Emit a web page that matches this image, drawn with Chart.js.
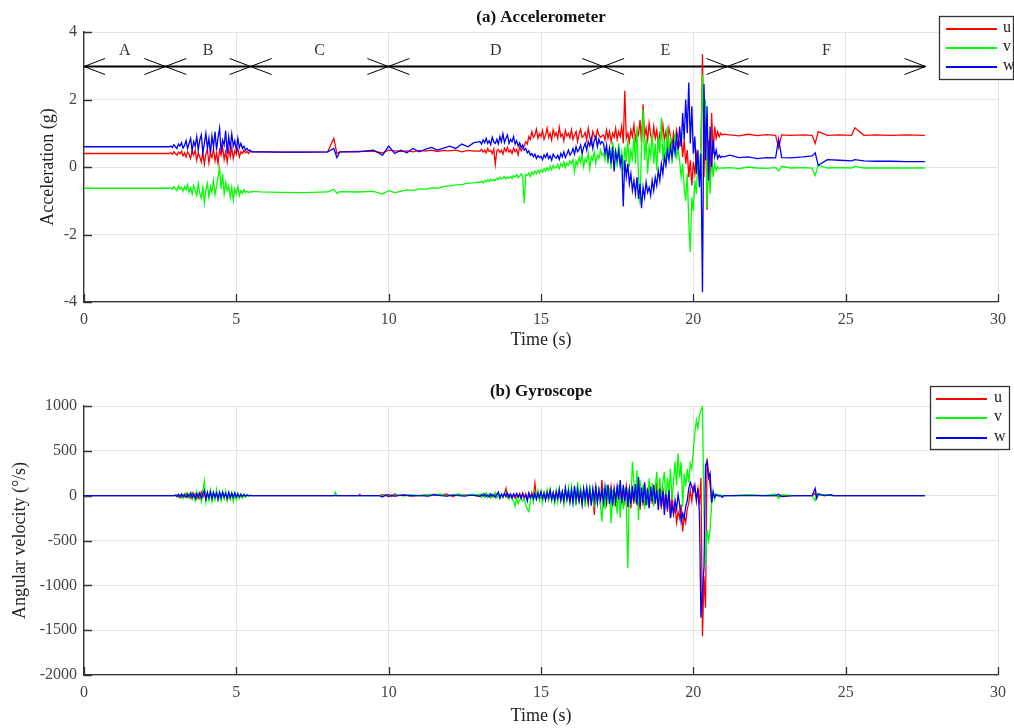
<!DOCTYPE html>
<html>
<head>
<meta charset="utf-8">
<script src="https://cdn.jsdelivr.net/npm/chart.js@4.4.1/dist/chart.umd.min.js"></script>
<style>
  body { margin: 0; background: #fff; }
  .panel { position: absolute; left: 0; width: 1014px; height: 364px; }
</style>
</head>
<body>
<div class="panel" style="top:0"><canvas id="accChart"></canvas></div>
<div class="panel" style="top:364px"><canvas id="gyroChart"></canvas></div>
<script>
// ---- accelerometer (g) ----
const accTime = [
  0, 2.8,
  2.85, 2.9, 2.95, 3.0, 3.05, 3.1, 3.15, 3.2, 3.25, 3.3,
  3.35, 3.4, 3.45, 3.5, 3.55, 3.6, 3.65, 3.7, 3.75, 3.8,
  3.85, 3.9, 3.95, 4.0, 4.05, 4.1, 4.15, 4.2, 4.25, 4.3,
  4.35, 4.4, 4.45, 4.5, 4.55, 4.6, 4.65, 4.7, 4.75, 4.8,
  4.85, 4.9, 4.95, 5.0, 5.05, 5.1, 5.15, 5.2, 5.25, 5.3,
  5.35, 5.4, 5.45, 5.5, 5.55, 5.6,
  5.8, 6.5, 7.2, 8.0, 8.2, 8.3, 8.4, 9.0, 9.5, 9.8, 10.0, 10.2,
  10.4, 10.6, 10.8, 11.0, 11.2, 11.4, 11.6, 11.8, 12.0, 12.2, 12.4, 12.6, 12.8,
  13.0, 13.05, 13.1, 13.15, 13.2, 13.25, 13.3, 13.35, 13.4, 13.45,
  13.5, 13.55, 13.6, 13.65, 13.7, 13.75, 13.8, 13.85, 13.9, 13.95,
  14.0, 14.05, 14.1, 14.15, 14.2, 14.25, 14.3, 14.35, 14.4, 14.45,
  14.5, 14.55, 14.6, 14.65, 14.7, 14.75, 14.8, 14.85, 14.9, 14.95,
  15.0, 15.05, 15.1, 15.15, 15.2, 15.25, 15.3, 15.35, 15.4, 15.45,
  15.5, 15.55, 15.6, 15.65, 15.7, 15.75, 15.8, 15.85, 15.9, 15.95,
  16.0, 16.05, 16.1, 16.15, 16.2, 16.25, 16.3, 16.35, 16.4, 16.45,
  16.5, 16.55, 16.6, 16.65, 16.7, 16.75, 16.8, 16.85, 16.9, 16.95,
  17.0,
  17.05, 17.1, 17.15, 17.2, 17.25, 17.3, 17.35, 17.4, 17.45, 17.5,
  17.55, 17.6, 17.65, 17.7, 17.75, 17.8, 17.85, 17.9, 17.95, 18.0,
  18.05, 18.1, 18.15, 18.2, 18.25, 18.3, 18.35, 18.4, 18.45, 18.5,
  18.55, 18.6, 18.65, 18.7, 18.75, 18.8, 18.85, 18.9, 18.95, 19.0,
  19.05, 19.1, 19.15, 19.2, 19.25, 19.3, 19.35, 19.4, 19.45, 19.5,
  19.55, 19.6, 19.65, 19.7, 19.75, 19.8, 19.85, 19.9, 19.95, 20.0,
  20.05, 20.1, 20.15, 20.2, 20.25, 20.3, 20.35, 20.4, 20.45, 20.5,
  20.55, 20.6, 20.65, 20.7, 20.75, 20.8, 20.85, 20.9, 20.95, 21.0,
  21.2, 21.5, 21.8, 22.1, 22.4, 22.7, 22.8, 22.9, 23.2, 23.6, 23.9, 24.0, 24.1, 24.4, 24.8, 25.2, 25.3, 25.6, 26.0, 26.5, 27.0, 27.6
];
const accU = [
  0.40, 0.40,
  0.42, 0.38, 0.45, 0.40, 0.35, 0.44, 0.39, 0.47, 0.33, 0.42,
  0.30, 0.45, 0.38, 0.25, 0.48, 0.35, 0.50, 0.20, 0.42, 0.30,
  0.15, 0.45, 0.08, 0.38, 0.52, 0.12, 0.40, 0.28, 0.55, 0.18,
  0.42, 0.10, 0.50, 0.35, 0.60, 0.22, 0.45, 0.15, 0.52, 0.30,
  0.58, 0.25, 0.48, 0.38, 0.55, 0.30, 0.45, 0.40, 0.50, 0.42,
  0.46, 0.40, 0.47, 0.44, 0.45, 0.45,
  0.45, 0.44, 0.44, 0.45, 0.85, 0.40, 0.45, 0.46, 0.47, 0.42, 0.50, 0.48,
  0.46, 0.48, 0.45, 0.49, 0.47, 0.50, 0.46, 0.49, 0.48, 0.50, 0.45, 0.49, 0.47,
  0.47, 0.52, 0.44, 0.50, 0.42, 0.55, 0.46, 0.49, 0.40, 0.53,
  0.08, 0.48, 0.52, 0.43, 0.50, 0.38, 0.55, 0.46, 0.58, 0.44,
  0.50, 0.40, 0.56, 0.45, 0.52, 0.36, 0.60, 0.48, 0.55, 0.62,
  0.75, 0.68, 0.90, 0.82, 1.05, 0.88, 0.95, 1.12, 0.85, 0.98,
  0.90, 1.08, 0.82, 0.95, 1.15, 0.88, 1.00, 0.80, 1.10, 0.92,
  1.02, 0.85, 1.18, 0.90, 0.98, 0.78, 1.08, 0.92, 1.00, 0.86,
  1.10, 0.82, 0.95, 1.05, 0.75, 0.98, 1.12, 0.88, 0.92, 1.02,
  0.80, 1.15, 0.90, 0.70, 1.05, 0.92, 0.85, 1.10, 0.95, 0.88,
  0.92,
  0.95, 0.80, 1.10, 0.85, 1.05, 0.75, 1.00, 0.88, 1.15, 0.82,
  1.05, 0.90, 1.20, 0.70, 2.26, 0.85, 1.00, 0.75, 1.10, 0.90,
  1.25, 0.80, 1.05, 0.95, 1.40, 0.70, 1.86, 0.90, 1.15, 0.80,
  1.30, 0.95, 0.75, 1.20, 0.85, 1.10, 0.65, 1.00, 0.90, 1.25,
  0.80, 1.05, 0.70, 1.15, 0.90, 0.60, 1.00, 0.75, 1.10, 0.85,
  0.65, 0.95, 0.30, 0.80, 0.10, 0.50, -0.30, 0.20, -0.55, 0.15,
  -0.20, 0.40, 0.10, -0.40, 0.60, 3.35, -0.30, 1.60, -1.27, 0.80,
  -0.60, 1.60, 0.40, 1.20, 0.85, 1.05, 0.90, 1.00, 0.95, 0.97,
  0.95, 0.92, 0.97, 0.93, 0.96, 0.94, 0.57, 0.95, 0.94, 0.95, 0.94, 0.70, 1.05, 0.94, 0.95, 0.94, 1.16, 0.94, 0.95, 0.94, 0.95, 0.94
];
const accV = [
  -0.63, -0.63,
  -0.62, -0.66, -0.58, -0.64, -0.70, -0.56, -0.66, -0.60, -0.72, -0.58,
  -0.68, -0.52, -0.75, -0.62, -0.80, -0.55, -0.70, -0.85, -0.50, -0.78,
  -0.92, -0.60, -1.07, -0.70, -0.48, -0.88, -0.58, -0.75, -0.40, -0.82,
  -0.55, -0.30, -0.02, -0.65, -0.20, -0.80, -0.45, -0.70, -0.55, -0.90,
  -0.60, -1.00, -0.65, -0.80, -0.58, -0.85, -0.70, -0.78, -0.68, -0.75,
  -0.72, -0.76, -0.73, -0.74, -0.73, -0.73,
  -0.74, -0.75, -0.76, -0.74, -0.66, -0.78, -0.73, -0.74, -0.72, -0.80, -0.70, -0.76,
  -0.72, -0.68, -0.70, -0.65, -0.66, -0.62, -0.63, -0.58, -0.56, -0.53, -0.52, -0.48, -0.47,
  -0.45, -0.42, -0.47, -0.40, -0.44, -0.38, -0.43, -0.36, -0.41, -0.38,
  -0.40, -0.34, -0.38, -0.30, -0.36, -0.32, -0.28, -0.35, -0.30, -0.33,
  -0.28, -0.34, -0.25, -0.30, -0.22, -0.32, -0.26, -0.20, -0.30, -1.07,
  -0.22, -0.25, -0.18, -0.28, -0.15, -0.22, -0.12, -0.20, -0.10, -0.18,
  -0.08, -0.15, -0.05, -0.12, -0.02, -0.10, 0.02, -0.08, 0.05, -0.04,
  0.00, 0.08, -0.05, 0.10, 0.02, 0.15, -0.02, 0.12, 0.05, 0.18,
  0.10, 0.22, -0.15, 0.18, 0.05, 0.28, 0.12, 0.35, 0.00, 0.25,
  0.15, 0.40, -0.05, 0.30, 0.20, 0.45, 0.10, 0.35, 0.25, 0.50,
  0.35,
  0.40, 0.20, 0.55, 0.10, 0.60, -0.05, 0.75, 0.30, 0.50, 0.00,
  0.70, 0.20, 0.45, -0.10, 0.60, 0.15, 0.80, 0.00, 0.50, 0.25,
  0.90, 0.10, 1.20, -0.30, -1.12, 0.60, 1.71, 0.20, 0.85, -0.20,
  0.60, 0.30, 1.00, 0.10, 0.70, -0.10, 0.90, 0.40, 1.46, 0.20,
  0.80, 0.00, 1.20, 0.40, 0.90, 0.10, 0.60, 1.00, 0.30, 0.50,
  0.20, -0.30, 0.10, -0.60, -1.00, -0.20, -1.60, -2.52, -0.90, -1.30,
  -0.40, -0.80, 0.20, -0.10, 0.60, 2.76, 1.20, 2.00, -1.22, 0.40,
  -0.80, 0.30, -0.30, 0.10, -0.10, 0.00, -0.05, -0.02, -0.04, -0.03,
  -0.02, -0.05, 0.00, -0.03, -0.04, -0.02, -0.12, 0.02, -0.03, -0.02, -0.03, -0.25, 0.05, -0.03, -0.02, -0.03, 0.02, -0.03, -0.03, -0.03, -0.03, -0.03
];
const accW = [
  0.60, 0.60,
  0.62, 0.58, 0.66, 0.60, 0.55, 0.68, 0.62, 0.72, 0.56, 0.64,
  0.78, 0.55, 0.70, 0.85, 0.48, 0.75, 0.62, 0.90, 0.50, 0.80,
  0.95, 0.42, 0.70, 1.00, 0.55, 0.85, 0.38, 0.92, 0.60, 1.05,
  0.50, 0.88, 1.15, 0.45, 0.80, 0.65, 1.08, 0.40, 0.90, 0.55,
  0.98, 0.62, 0.78, 0.50, 0.85, 0.58, 0.70, 0.55, 0.62, 0.50,
  0.55, 0.48, 0.50, 0.46, 0.45, 0.45,
  0.45, 0.44, 0.44, 0.45, 0.55, 0.28, 0.45, 0.45, 0.50, 0.35, 0.62, 0.40,
  0.50, 0.42, 0.55, 0.45, 0.52, 0.58, 0.50, 0.56, 0.62, 0.55, 0.68, 0.60, 0.72,
  0.75, 0.68, 0.80, 0.72, 0.85, 0.70, 0.78, 0.66, 0.88, 0.74,
  0.70, 0.82, 0.68, 0.90, 0.75, 0.98, 0.72, 0.85, 0.95, 0.70,
  0.82, 0.75, 0.90, 0.68, 0.78, 0.62, 0.72, 0.58, 0.65, 0.50,
  0.55, 0.42, 0.48, 0.35, 0.40, 0.30, 0.38, 0.25, 0.34, 0.28,
  0.32, 0.22, 0.36, 0.28, 0.40, 0.25, 0.33, 0.20, 0.38, 0.30,
  0.26, 0.35, 0.22, 0.40, 0.30, 0.45, 0.28, 0.38, 0.50, 0.35,
  0.42, 0.55, 0.38, 0.60, 0.45, 0.52, 0.65, 0.40, 0.58, 0.70,
  0.50, 0.75, 0.62, 0.85, 0.55, 0.78, 0.90, 0.60, 0.82, 0.68,
  0.75,
  0.70, 0.40, 0.65, 0.25, 0.55, 0.10, 0.60, -0.13, 0.45, 0.20,
  0.50, 0.05, 0.35, -1.17, 0.20, -0.30, 0.10, -0.50, -0.20, -0.70,
  -0.40, -0.80, -0.30, -0.95, -0.50, -1.22, -0.60, -0.90, -0.45, -0.75,
  -0.60, -0.85, -0.40, -0.70, -0.30, -0.55, -0.10, -0.40, 0.10, -0.20,
  0.30, 0.05, 0.50, 0.20, 0.60, 0.30, 0.75, 0.40, 0.90, 0.50,
  1.20, 0.60, 1.60, 0.80, 2.00, 1.00, 2.50, 0.70, 1.80, 0.40,
  0.90, -0.20, 0.50, -0.60, 0.40, -3.71, 2.46, 0.20, 1.80, -0.40,
  1.20, 0.00, 0.80, 0.30, 0.50, 0.25, 0.35, 0.28, 0.32, 0.30,
  0.35, 0.28, 0.30, 0.25, 0.28, 0.27, 0.82, 0.28, 0.27, 0.30, 0.33, 0.42, 0.05, 0.22, 0.20, 0.18, 0.22, 0.18, 0.17, 0.17, 0.16, 0.16
];

// ---- gyroscope (deg/s) ----
const gyroTime = [
  0, 2.95,
  3.0, 3.05, 3.1, 3.15, 3.2, 3.25, 3.3, 3.35, 3.4, 3.45,
  3.5, 3.55, 3.6, 3.65, 3.7, 3.75, 3.8, 3.85, 3.9, 3.95,
  4.0, 4.05, 4.1, 4.15, 4.2, 4.25, 4.3, 4.35, 4.4, 4.45,
  4.5, 4.55, 4.6, 4.65, 4.7, 4.75, 4.8, 4.85, 4.9, 4.95,
  5.0, 5.05, 5.1, 5.15, 5.2, 5.25, 5.3, 5.35, 5.4, 5.45,
  5.5,
  5.7, 8.2, 8.25, 8.3, 9.0, 9.05, 9.1, 9.7, 9.8, 9.9, 10.0, 10.1, 10.2, 10.3, 10.5, 10.7, 11.0, 11.3, 11.5, 11.7, 11.9, 12.1, 12.3, 12.5, 12.7, 12.9,
  13.0, 13.05, 13.1, 13.15, 13.2, 13.25, 13.3, 13.35, 13.4, 13.45,
  13.5, 13.55, 13.6, 13.65, 13.7, 13.75, 13.8, 13.85, 13.9, 13.95,
  14.0, 14.05, 14.1, 14.15, 14.2, 14.25, 14.3, 14.35, 14.4, 14.45,
  14.5, 14.55, 14.6, 14.65, 14.7, 14.75, 14.8, 14.85, 14.9, 14.95,
  15.0, 15.05, 15.1, 15.15, 15.2, 15.25, 15.3, 15.35, 15.4, 15.45,
  15.5, 15.55, 15.6, 15.65, 15.7, 15.75, 15.8, 15.85, 15.9, 15.95,
  16.0, 16.05, 16.1, 16.15, 16.2, 16.25, 16.3, 16.35, 16.4, 16.45,
  16.5, 16.55, 16.6, 16.65, 16.7, 16.75, 16.8, 16.85, 16.9, 16.95,
  17.0,
  17.05, 17.1, 17.15, 17.2, 17.25, 17.3, 17.35, 17.4, 17.45, 17.5,
  17.55, 17.6, 17.65, 17.7, 17.75, 17.8, 17.85, 17.9, 17.95, 18.0,
  18.05, 18.1, 18.15, 18.2, 18.25, 18.3, 18.35, 18.4, 18.45, 18.5,
  18.55, 18.6, 18.65, 18.7, 18.75, 18.8, 18.85, 18.9, 18.95, 19.0,
  19.05, 19.1, 19.15, 19.2, 19.25, 19.3, 19.35, 19.4, 19.45, 19.5,
  19.55, 19.6, 19.65, 19.7, 19.75, 19.8, 19.85, 19.9, 19.95, 20.0,
  20.05, 20.1, 20.15, 20.2, 20.25, 20.3, 20.35, 20.4, 20.45, 20.5,
  20.55, 20.6, 20.65, 20.7, 20.75, 20.8, 20.85, 20.9, 20.95, 21.0,
  21.3, 21.8, 22.3, 22.7, 22.8, 22.9, 23.3, 23.9, 24.0, 24.05, 24.1, 24.3, 24.5, 24.6, 25.0, 27.6
];
const gyroU = [
  0, 0,
  0, 10, -15, 8, -20, 12, -10, 25, -18, 15,
  -25, 30, -12, 20, -35, 18, -28, 40, -20, 25,
  -40, 15, -30, 35, -45, 20, -25, 30, -50, 22,
  -30, 40, -20, 28, -45, 15, -35, 25, -40, 18,
  -25, 20, -30, 12, -18, 15, -10, 8, -5, 5,
  0,
  0, 0, 5, 0, 0, 15, 0, 0, 10, -5, 15, -10, 20, 0, 10, -5, 0, 10, 15, 5, 20, -10, 15, 5, 10, -5,
  10, -8, 15, -12, 20, -15, 8, -20, 12, -10,
  25, -18, 15, -25, 10, -12, 20, 81, -15, 10,
  20, -25, 15, -30, 10, -20, 25, -15, 30, -35,
  20, -40, 25, -30, 35, -25, 137, -30, 20, -45,
  30, -40, 35, -20, 45, -50, 25, -35, 40, -30,
  50, -45, 30, -55, 40, -35, 60, -40, 25, -60,
  45, -30, 55, -70, 40, -50, 70, -45, 60, -80,
  50, -90, 75, -60, 45, -215, 80, -50, 60, -100,
  174,
  -60, 40, -90, 70, -50, 100, -80, 50, -120, 80,
  -40, 90, -100, 60, -70, 110, -30, 80, -140, 60,
  -90, 120, -60, 80, -160, 50, -110, 130, -70, 90,
  -130, 60, -90, 110, -50, 140, -100, 70, -150, 90,
  -120, 50, -180, 80, -250, 40, -200, -120, -300, -180,
  -250, -100, -400, -220, -300, -150, -80, 60, -60, 100,
  50, -40, 80, -100, 200, -1567, -900, -1251, 415, 250,
  120, -60, 40, -20, 10, 0, 5, 0, 0, 0,
  0, 5, 0, 0, -10, 0, 0, 0, 30, -20, 10, 0, 5, 0, 0, 0
];
const gyroV = [
  0, 0,
  5, -12, 18, -25, 10, -30, 22, -15, 28, -20,
  35, -40, 20, -55, 45, -30, 25, -60, 60, 160,
  -70, 40, -50, 60, -65, 30, -45, 70, -40, 25,
  -60, 45, -35, 50, -55, 20, -40, 35, -65, 30,
  -45, 25, -30, 20, -25, 15, -15, 10, -8, 5,
  0,
  0, 0, 40, 0, 0, 0, 0, 0, -5, 10, -10, 5, 0, 10, -5, 10, 0, 15, 5, 20, -5, 10, 20, 0, 15, 10,
  15, -20, 25, -12, 30, -18, 20, -25, 10, -15,
  35, -20, 25, -30, 15, -25, 30, -10, 20, -35,
  10, -40, -60, -120, -30, -90, -50, -20, -60, -40,
  -100, -150, -178, -60, 20, -70, 40, -30, 60, -45,
  40, -80, 30, -50, 60, -40, 70, -60, 25, -90,
  50, -70, 80, -40, 35, -100, 60, -50, 90, -60,
  100, -70, 50, -110, 155, -40, 80, -90, 60, -120,
  90, -60, 120, -80, 40, -130, 110, -70, 60, -100,
  -290,
  80, -150, 120, -60, 81, -307, 60, -100, 40, -200,
  120, -250, 60, -150, 80, -120, -807, 100, -100, 378,
  150, -80, 285, -270, 180, -60, 120, -150, 80, -100,
  193, -60, 140, -120, 100, 267, -80, 200, -40, 150,
  267, -100, 200, 40, 300, -50, 150, 380, 120, 470,
  200, 378, -122, 250, 100, 300, 150, 360, 300, 500,
  700, 840, 750, 900, 950, 989, -200, -789, -380, -500,
  -380, -100, 60, -40, 20, 0, 10, 0, 5, 0,
  0, 10, 0, 20, -30, 10, 0, 0, -55, 20, 0, 10, 0, 0, 0, 0
];
const gyroW = [
  0, 0,
  5, -8, 12, -15, 20, -10, 8, -18, 15, -12,
  25, -20, 18, -30, 22, -15, 30, -25, 20, 60,
  -40, 35, -25, 45, -30, 38, -20, 30, -35, 40,
  -25, 35, -15, 28, -30, 40, -20, 25, -18, 30,
  -15, 20, -12, 15, -8, 10, -5, 8, 0, 0,
  0,
  0, 0, 0, 0, 0, 0, 0, 0, -15, 10, -10, 5, -8, 0, 5, 0, 0, -5, 10, 0, -5, 5, 0, -5, 5, 0,
  -10, 12, -5, 18, -12, 8, -15, 20, -8, 10,
  -20, 15, 40, -25, 18, -15, 25, -10, 30, -20,
  15, -25, 20, -10, 25, -15, 12, -30, 20, -15,
  10, -60, 30, -20, 15, -35, 25, -40, 30, -20,
  45, -30, 25, -50, 35, -20, 60, -40, 30, -55,
  40, -30, 70, -50, 45, -60, 90, -40, 55, -70,
  60, -80, 110, -50, 75, -60, 45, -100, 80, -40,
  90, -70, 60, -110, 75, -50, 100, -80, 65, -40,
  60,
  -80, 100, -50, 120, -90, 60, -110, 80, -60, 100,
  -40, 174, -80, 120, -60, 100, -130, 60, -90, 110,
  -60, 130, -100, 211, -122, 90, -80, 150, -110, 70,
  -140, 100, -60, 120, -90, 60, -160, 80, -120, 50,
  -215, 20, -150, 60, -250, -100, -200, -50, -150, 10,
  -100, -290, -200, -250, -120, -60, 80, 150, 100, 50,
  120, -60, 80, -200, -1362, -1048, -800, 341, 380, 200,
  250, -80, 40, -20, 10, 0, -5, 0, -20, 0,
  0, 0, 0, 0, 15, -10, 0, 0, 82, -30, 20, 0, 10, 0, 0, 0
];

// phase annotation on the accelerometer panel
const phaseBounds = [0, 2.67, 5.47, 9.99, 17.04, 21.12, 27.62];
const phaseLabels = ['A', 'B', 'C', 'D', 'E', 'F'];
const phaseArrowY = 3;
const phaseLabelY = 3.45;

const seriesNames = ['u', 'v', 'w'];
const seriesColors = ['#ff0000', '#00ff00', '#0000ff'];

const SERIF = "'Liberation Serif', 'Times New Roman', serif";
const tickFont = { family: SERIF, size: 16 };
const labelFont = { family: SERIF, size: 18 };

function toPoints(times, values) {
  return times.map((t, i) => ({ x: t, y: values[i] }));
}

function makeDatasets(times, lists) {
  return lists.map((vals, i) => ({
    label: seriesNames[i],
    data: toPoints(times, vals),
    borderColor: seriesColors[i],
    borderWidth: 1.3,
    pointRadius: 0,
    tension: 0,
    order: 2 - i // w on top, u at the bottom
  }));
}

// title, legend box, inner tick marks and the phase arrows
const decorPlugin = {
  id: 'decor',
  beforeDatasetsDraw(chart, args, opts) {
    const { ctx, chartArea, scales } = chart;
    ctx.save();
    ctx.strokeStyle = '#333';
    ctx.lineWidth = 1.3;
    ctx.beginPath();
    scales.x.ticks.forEach(t => {
      const px = Math.round(scales.x.getPixelForValue(t.value)) + 0.5;
      ctx.moveTo(px, chartArea.bottom);
      ctx.lineTo(px, chartArea.bottom - 8);
    });
    scales.y.ticks.forEach(t => {
      const py = Math.round(scales.y.getPixelForValue(t.value)) + 0.5;
      ctx.moveTo(chartArea.left, py);
      ctx.lineTo(chartArea.left + 8, py);
    });
    ctx.stroke();

    if (opts.arrows) {
      const x = scales.x, y = scales.y;
      const yy = Math.round(y.getPixelForValue(phaseArrowY)) + 0.5;
      ctx.strokeStyle = '#000';
      ctx.lineWidth = 1.8;
      ctx.beginPath();
      ctx.moveTo(x.getPixelForValue(phaseBounds[0]), yy);
      ctx.lineTo(x.getPixelForValue(phaseBounds[phaseBounds.length - 1]), yy);
      ctx.stroke();
      ctx.lineWidth = 1;
      ctx.beginPath();
      for (let i = 0; i < phaseLabels.length; i++) {
        const x0 = x.getPixelForValue(phaseBounds[i]);
        const x1 = x.getPixelForValue(phaseBounds[i + 1]);
        ctx.moveTo(x0 + 21, yy - 8); ctx.lineTo(x0, yy); ctx.lineTo(x0 + 21, yy + 8);
        ctx.moveTo(x1 - 21, yy - 8); ctx.lineTo(x1, yy); ctx.lineTo(x1 - 21, yy + 8);
      }
      ctx.stroke();
      ctx.fillStyle = '#333';
      ctx.font = '16px ' + SERIF;
      ctx.textAlign = 'center';
      ctx.textBaseline = 'middle';
      const ly = y.getPixelForValue(phaseLabelY);
      phaseLabels.forEach((lab, i) => {
        const cx = x.getPixelForValue((phaseBounds[i] + phaseBounds[i + 1]) / 2);
        ctx.fillText(lab, cx, ly);
      });
    }
    ctx.restore();
  },
  afterDraw(chart, args, opts) {
    const { ctx, chartArea } = chart;
    ctx.save();
    ctx.fillStyle = '#111';
    ctx.font = 'bold 17px ' + SERIF;
    ctx.textAlign = 'center';
    ctx.textBaseline = 'middle';
    ctx.fillText(opts.title, (chartArea.left + chartArea.right) / 2, opts.titleY);

    const lg = opts.legend;
    ctx.fillStyle = '#fff';
    ctx.fillRect(lg.x, lg.y, lg.w, lg.h);
    ctx.strokeStyle = '#333';
    ctx.lineWidth = 1.3;
    ctx.strokeRect(lg.x + 0.5, lg.y + 0.5, lg.w, lg.h);
    ctx.font = '16px ' + SERIF;
    ctx.textAlign = 'left';
    chart.data.datasets.forEach((ds, i) => {
      const ry = lg.rows[i];
      ctx.strokeStyle = seriesColors[i];
      ctx.lineWidth = 2;
      ctx.beginPath();
      ctx.moveTo(lg.lineX0, ry);
      ctx.lineTo(lg.lineX1, ry);
      ctx.stroke();
      ctx.fillStyle = '#222';
      ctx.fillText(ds.label, lg.textX, ry - 1);
    });
    ctx.restore();
  }
};

function panelOptions(cfg) {
  const gridStyle = { color: '#e4e4e4', lineWidth: 1, drawTicks: false };
  const borderStyle = { color: '#333', width: 1.3 };
  return {
    responsive: true,
    maintainAspectRatio: false,
    animation: false,
    layout: { padding: { left: 0, right: 11, top: cfg.top, bottom: 0 } },
    plugins: {
      legend: { display: false },
      tooltip: { enabled: false },
      decor: cfg.decor
    },
    scales: {
      x: {
        type: 'linear', min: 0, max: 30,
        afterFit: s => { s.height = cfg.xHeight; },
        grid: gridStyle,
        border: borderStyle,
        ticks: { stepSize: 5, padding: 8, color: '#444', font: tickFont, maxRotation: 0, callback: v => String(v) },
        title: { display: true, text: 'Time (s)', color: '#222', font: labelFont, padding: { top: 0, bottom: cfg.xTitlePad } }
      },
      y: {
        type: 'linear', min: cfg.yMin, max: cfg.yMax,
        afterFit: s => { s.width = 84; },
        grid: gridStyle,
        border: borderStyle,
        ticks: { stepSize: cfg.yStep, padding: 7, color: '#444', font: tickFont, callback: v => String(v) },
        title: { display: true, text: cfg.yTitle, color: '#222', font: labelFont, padding: { top: cfg.yTitlePad, bottom: 0 } }
      }
    }
  };
}

new Chart(document.getElementById('accChart'), {
  type: 'line',
  data: { datasets: makeDatasets(accTime, [accU, accV, accW]) },
  options: panelOptions({
    top: 32, xHeight: 62, xTitlePad: 13, yTitlePad: 37,
    yMin: -4, yMax: 4, yStep: 2, yTitle: 'Acceleration (g)',
    decor: {
      title: '(a) Accelerometer', titleY: 18, arrows: true,
      legend: { x: 939, y: 16, w: 74, h: 63, lineX0: 946, lineX1: 997, textX: 1003, rows: [29, 48, 67] }
    }
  }),
  plugins: [decorPlugin]
});

new Chart(document.getElementById('gyroChart'), {
  type: 'line',
  data: { datasets: makeDatasets(gyroTime, [gyroU, gyroV, gyroW]) },
  options: panelOptions({
    top: 42, xHeight: 53, xTitlePad: 1, yTitlePad: 9,
    yMin: -2000, yMax: 1000, yStep: 500, yTitle: 'Angular velocity (°/s)',
    decor: {
      title: '(b) Gyroscope', titleY: 28, arrows: false,
      legend: { x: 930, y: 22, w: 79, h: 63, lineX0: 936, lineX1: 987, textX: 994, rows: [35, 54, 74] }
    }
  }),
  plugins: [decorPlugin]
});
</script>
</body>
</html>
